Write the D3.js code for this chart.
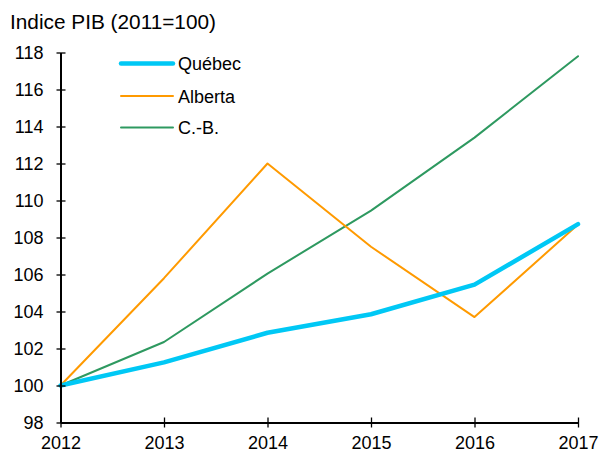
<!DOCTYPE html>
<html><head><meta charset="utf-8">
<script src="https://cdn.jsdelivr.net/npm/d3@7"></script>
<style>body{margin:0;background:#fff}svg{display:block}text{font-family:"Liberation Sans",Arial,sans-serif;fill:#000}</style>
</head><body>
<script>
const years = [2012, 2013, 2014, 2015, 2016, 2017];
const quebec = [100, 101.25, 102.85, 103.85, 105.45, 108.72];
const alberta = [100, 105.8, 112.0, 107.5, 103.7, 108.7];
const cb = [100, 102.35, 106.05, 109.45, 113.4, 117.8];
const yTicks = [98, 100, 102, 104, 106, 108, 110, 112, 114, 116, 118];
const series = [
  {name: "Québec", values: quebec, color: "#00c8f5", width: 4.5},
  {name: "Alberta", values: alberta, color: "#ff9a00", width: 2},
  {name: "C.-B.", values: cb, color: "#2e9960", width: 2}
];
const W = 600, H = 451, FS = 18;
const svg = d3.select("body").append("svg").attr("width", W).attr("height", H);
const x = d3.scaleLinear().domain([2012, 2017]).range([60.5, 578]);
const y = d3.scaleLinear().domain([98, 118]).range([422.5, 52.5]);

svg.append("text").attr("x", 10).attr("y", 29).style("font-size", "20.8px").text("Indice PIB (2011=100)");

const line = d3.line().x((d, i) => x(years[i])).y(d => y(d));
series.slice().reverse().forEach(s => {
  svg.append("path").attr("d", line(s.values)).attr("fill", "none")
    .attr("stroke", s.color).attr("stroke-width", s.width).attr("stroke-linejoin", "round").attr("stroke-linecap", "round");
});

const ya = svg.append("g").attr("transform", "translate(60.5,0)")
  .call(d3.axisLeft(y).tickValues(yTicks).tickSize(0).tickPadding(17).tickFormat(d3.format("d")));
ya.select(".domain").attr("stroke", "#000").attr("stroke-width", 2);
ya.selectAll(".tick line").remove();
ya.selectAll(".tick").append("line").attr("x1", -4).attr("x2", 5).attr("stroke", "#000").attr("stroke-width", 1.3);
ya.selectAll("text").style("font-size", FS + "px").attr("fill", "#000");

const xa = svg.append("g").attr("transform", "translate(0,422.5)")
  .call(d3.axisBottom(x).tickValues(years).tickSize(0).tickPadding(14).tickFormat(d3.format("d")));
xa.select(".domain").attr("stroke", "#000").attr("stroke-width", 2);
xa.selectAll(".tick line").remove();
xa.selectAll(".tick").append("line").attr("y1", -5).attr("y2", 5).attr("stroke", "#000").attr("stroke-width", 1.3);
xa.selectAll("text").style("font-size", FS + "px").attr("fill", "#000");

const legY = [63.5, 96, 127.5];
series.forEach((s, i) => {
  svg.append("line").attr("x1", 121).attr("x2", 173).attr("y1", legY[i]).attr("y2", legY[i])
    .attr("stroke", s.color).attr("stroke-width", s.width).attr("stroke-linecap", "round");
  svg.append("text").attr("x", 178).attr("y", legY[i] + 6.5).style("font-size", FS + "px").text(s.name);
});
</script>
</body></html>
